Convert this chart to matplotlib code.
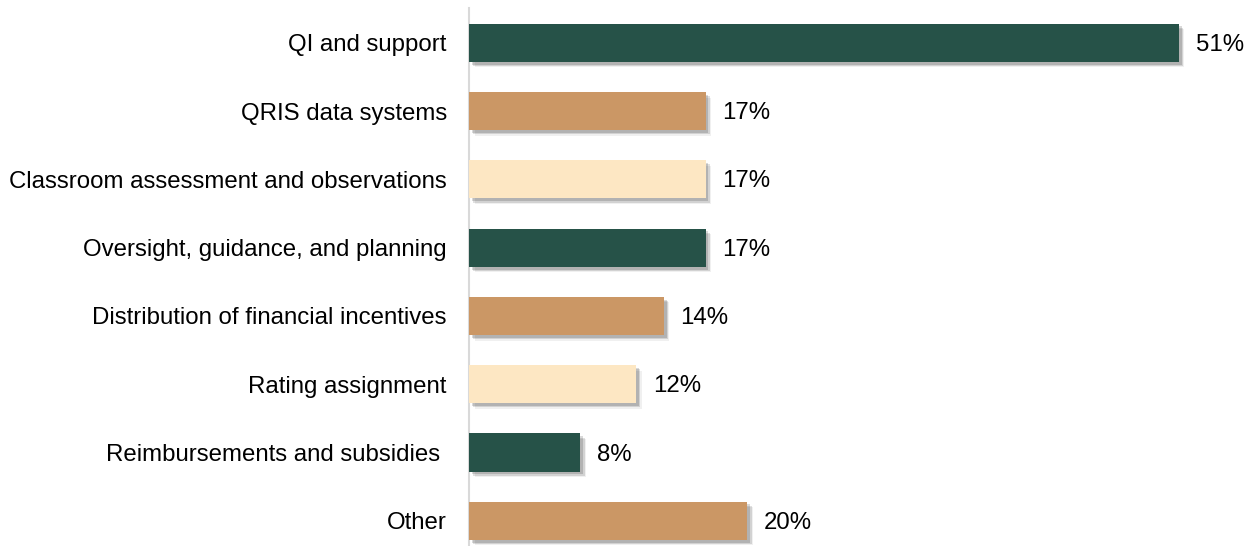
import numpy as np
from matplotlib import pyplot as plt
from matplotlib import patheffects as pe

# Data
categories = ["QI and support", "QRIS data systems", "Classroom assessment and observations",
              "Oversight, guidance, and planning", "Distribution of financial incentives",
              "Rating assignment", "Reimbursements and subsidies ", "Other"]
values = [51, 17, 17, 17, 14, 12, 8, 20]
bar_colors = ["#265248", "#CB9765", "#FDE7C3", "#265248", "#CB9765", "#FDE7C3", "#265248", "#CB9765"]

plt.rcParams['font.family'] = ['Liberation Sans', 'DejaVu Sans']

fig = plt.figure(figsize=(12.5, 5.46), dpi=100)
ax = fig.add_axes([469/1250, 0, 761/1250, 1 - 8/546])

y = np.arange(len(categories))
bars = ax.barh(y, values, height=0.56, color=bar_colors, zorder=3)

# soft drop shadow behind each bar
shadow = [pe.SimplePatchShadow(offset=(4, -4), shadow_rgbFace='#000000', alpha=0.06),
          pe.SimplePatchShadow(offset=(3, -3), shadow_rgbFace='#000000', alpha=0.12),
          pe.SimplePatchShadow(offset=(2, -2), shadow_rgbFace='#000000', alpha=0.15),
          pe.Normal()]
for b in bars:
    b.set_path_effects(shadow)

for yi, v in zip(y, values):
    ax.annotate(f"{v}%", (v, yi), xytext=(12, -1.5), textcoords='offset points',
                va='center', ha='left', fontsize=17.3, color='#000000')

ax.set_xlim(0, 761/13.92)
ax.set_ylim(7.37, -0.51)
ax.set_yticks(y)
ax.set_yticklabels(categories, fontsize=17.3)
ax.tick_params(axis='y', length=0, pad=16)
ax.set_xticks([])
for s in ['top', 'right', 'bottom']:
    ax.spines[s].set_visible(False)
ax.spines['left'].set_color('#D9D9D9')
ax.spines['left'].set_linewidth(1.5)

plt.savefig("out.png", dpi=100)
